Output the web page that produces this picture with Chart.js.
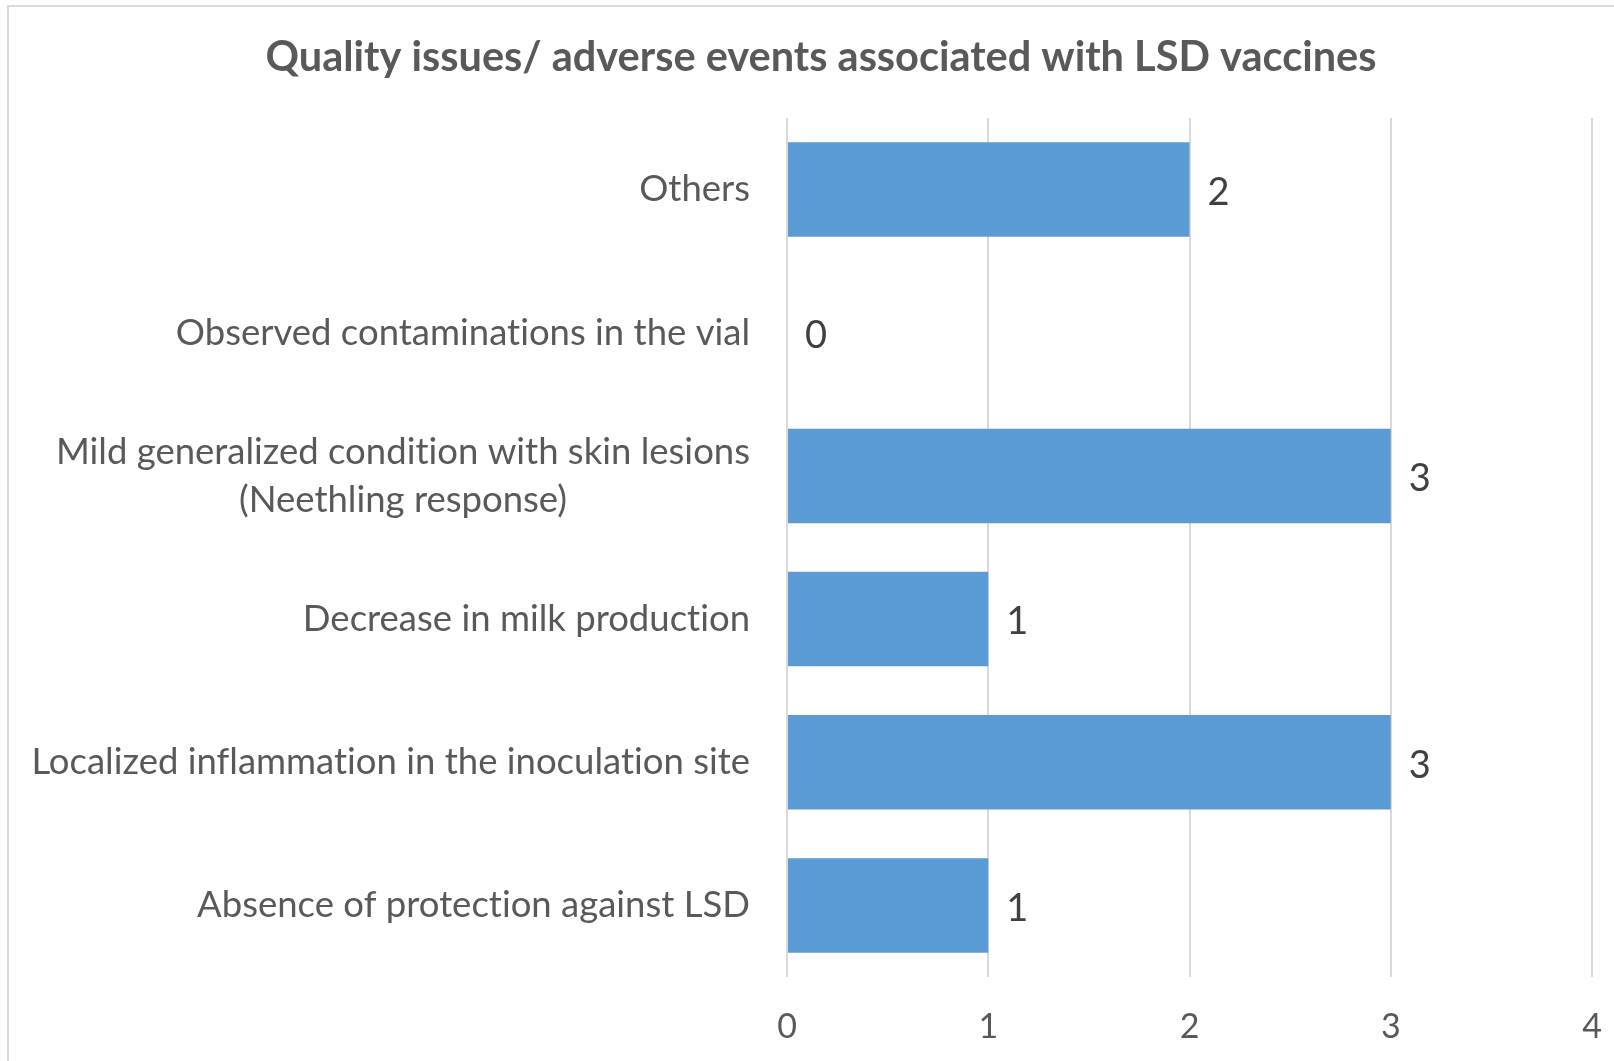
<!DOCTYPE html>
<html>
<head>
<meta charset="utf-8">
<script src="https://cdn.jsdelivr.net/npm/chart.js@4.4.1/dist/chart.umd.min.js"></script>
<style>
    body { margin: 0; background: #ffffff; }
</style>
</head>
<body>
<canvas id="graph" width="1614" height="1061"></canvas>
<script>
const titleText = 'Quality issues/ adverse events associated with LSD vaccines';
const categories = [
    'Others',
    'Observed contaminations in the vial',
    ['Mild generalized condition with skin lesions', '(Neethling response)'],
    'Decrease in milk production',
    'Localized inflammation in the inoculation site',
    'Absence of protection against LSD'
];
const counts = [2, 0, 3, 1, 3, 1];
const xMin = 0;
const xMax = 4;

const textColor = '#595959';
const labelFont = '36.5px Lato';

// frame, title, category labels and value labels
const extras = {
    id: 'extras',
    beforeDraw(chart) {
        const c = chart.ctx;
        c.save();
        c.strokeStyle = '#d9d9d9';
        c.lineWidth = 2;
        c.beginPath();
        c.moveTo(8, 1061);
        c.lineTo(8, 6);
        c.lineTo(1614, 6);
        c.stroke();
        c.restore();
    },
    afterDraw(chart) {
        const c = chart.ctx;
        const yScale = chart.scales.y;
        c.save();
        c.textRendering = 'optimizeSpeed';
        c.fillStyle = textColor;
        c.font = 'bold 41.5px Lato';
        c.textAlign = 'center';
        c.textBaseline = 'middle';
        c.fillText(titleText, 821, 58);

        c.font = labelFont;
        const right = 750;
        const lineH = 48;
        categories.forEach((label, i) => {
            const lines = Array.isArray(label) ? label : [label];
            const widest = Math.max(...lines.map(l => c.measureText(l).width));
            const cy = yScale.getPixelForValue(i);
            const startY = cy - (lines.length - 1) * lineH / 2;
            c.textAlign = 'center';
            lines.forEach((l, j) => {
                c.fillText(l, right - widest / 2, startY + j * lineH);
            });
        });

        c.fillStyle = '#404040';
        c.font = '38px Lato';
        c.textAlign = 'left';
        const meta = chart.getDatasetMeta(0);
        meta.data.forEach((bar, i) => {
            c.fillText(String(counts[i]), bar.x + 18, bar.y + 3);
        });
        c.restore();
    }
};

const ctx = document.getElementById('graph').getContext('2d');
const myChart = new Chart(ctx, {
    type: 'bar',
    data: {
        labels: categories,
        datasets: [{
            label: 'Count',
            data: counts,
            backgroundColor: '#5b9bd5',
            barPercentage: 0.66,
            categoryPercentage: 1
        }]
    },
    options: {
        indexAxis: 'y',
        responsive: false,
        animation: false,
        layout: {
            padding: { top: 118, right: 22, left: 0, bottom: 0 }
        },
        plugins: {
            legend: { display: false },
            tooltip: { enabled: false }
        },
        scales: {
            x: {
                min: xMin,
                max: xMax,
                ticks: {
                    stepSize: 1,
                    color: textColor,
                    font: { family: 'Lato', size: 34 },
                    padding: 30
                },
                grid: {
                    color: '#d9d9d9',
                    lineWidth: 2,
                    drawTicks: false
                },
                border: { display: false },
                afterFit(scale) {
                    scale.height = 84;
                    scale.paddingLeft = 0;
                    scale.paddingRight = 0;
                }
            },
            y: {
                ticks: { display: false },
                grid: { display: false },
                border: { display: false },
                afterFit(scale) { scale.width = 787; }
            }
        }
    },
    plugins: [extras]
});
</script>
</body>
</html>
